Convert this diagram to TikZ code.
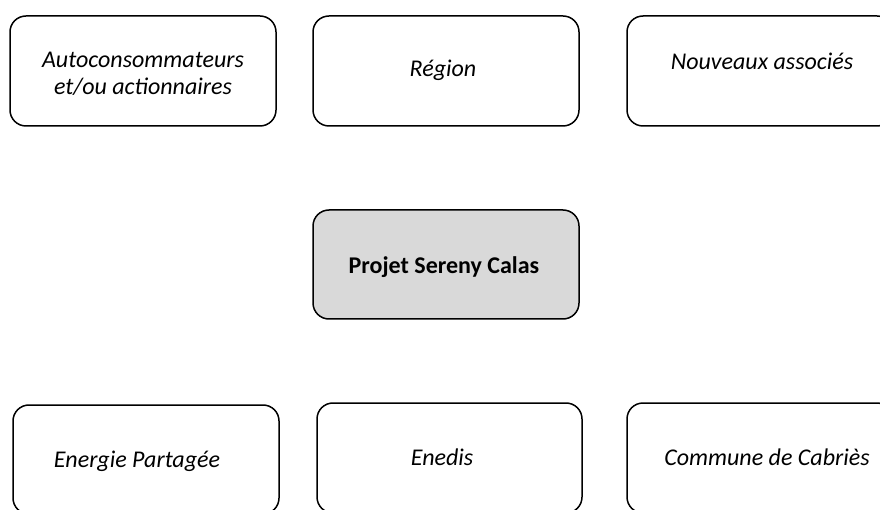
\documentclass[tikz,border=0pt]{standalone}
\usepackage{fontspec}
\setmainfont{Carlito}
\begin{document}
\begin{tikzpicture}[x=1pt,y=-1pt,
  box/.style={draw=black, line width=1.5pt, rounded corners=16pt, fill=white},
  mainbox/.style={box, fill=boxgray},
  lbl/.style={font=\fontsize{24}{27}\selectfont\itshape, align=center, inner sep=0pt},
  mainlbl/.style={font=\fontsize{24}{27}\selectfont\bfseries, inner sep=0pt}]
\definecolor{boxgray}{HTML}{D9D9D9}
\useasboundingbox (0,0) rectangle (880,510);
\clip (0,0) rectangle (880,510);
% top row
\draw[box] (10,16) rectangle (276,126);
\node[lbl] (t1) at (143,73.5) {Autoconsommateurs\\et/ou actionnaires};
\draw[box] (313,16) rectangle (579,126);
\node[lbl] (t2) at (443,70) {Région};
\draw[box] (627,16) rectangle (893,126);
\node[lbl] (t3) at (762,61) {Nouveaux associés};
% centre
\draw[mainbox] (313,210) rectangle (579,319);
\node[mainlbl] (tc) at (444,267) {Projet Sereny Calas};
% bottom row
\draw[box] (13,405) rectangle (279,514);
\node[lbl] (t4) at (137,461) {Energie Partagée};
\draw[box] (317,403) rectangle (582,513);
\node[lbl] (t5) at (442,457) {Enedis};
\draw[box] (627,403) rectangle (893,513);
\node[lbl] (t6) at (767,457) {Commune de Cabriès};
\end{tikzpicture}
\end{document}
